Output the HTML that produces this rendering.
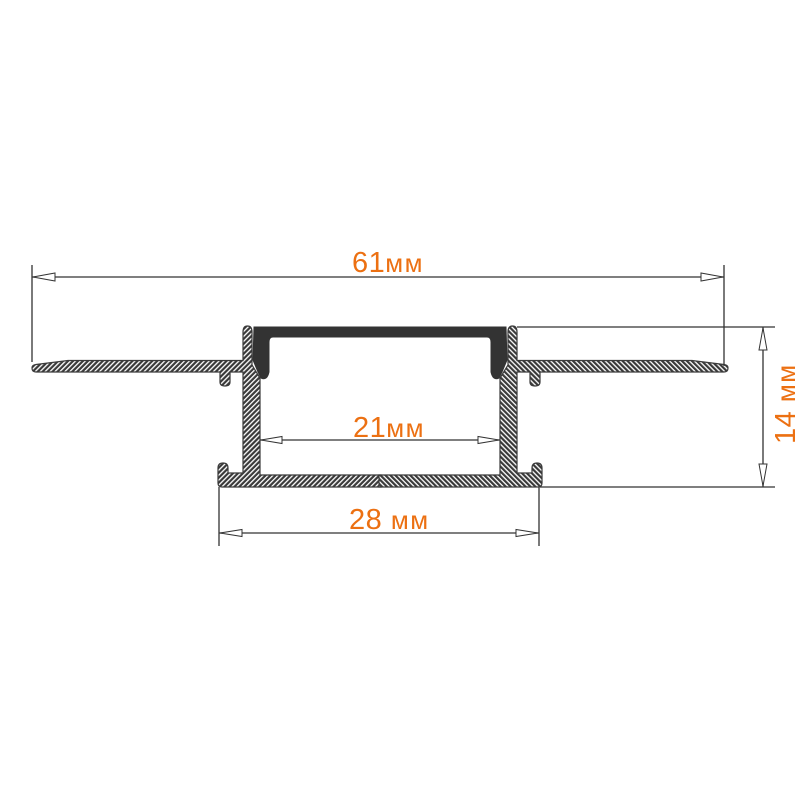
<!DOCTYPE html>
<html><head><meta charset="utf-8"><style>
html,body{margin:0;padding:0;background:#fff;}
svg{display:block;}
.t{font-family:"Liberation Sans",sans-serif;fill:#ec7012;}
</style></head><body>
<svg width="810" height="810" viewBox="0 0 810 810" xmlns="http://www.w3.org/2000/svg">
<defs>
<pattern id="h" width="3.5" height="3.5" patternUnits="userSpaceOnUse" patternTransform="rotate(45)">
<rect width="3.5" height="3.5" fill="#3a3a3a"/>
<rect width="1.3" height="3.5" fill="#fff"/>
</pattern>
<g id="half">
<path d="M381,487 L222,487 Q218,487 218,483 L218,468 Q218,463 223,463 Q228,463 228,468 L228,473 L243,473 L243,372 L230,372 L230,382 Q230,386 225,386 Q220,386 220,382 L220,372 L36,372 Q32,372 32,368 Q32,365 36,364.5 L68,360.5 L243,360.5 L243,332 Q243,326 247.5,326 Q252,326 252,332 L252,365 L260,378 L260,475 L381,475 Z" fill="url(#h)" stroke="#3a3a3a" stroke-width="1.2"/>
<path d="M254,327 L381,327 L381,337 L273,337 Q269,337 269,342 L269,372 Q267,381 261,378 L258,372 L253,360 Z" fill="#333" stroke="#333" stroke-width="1"/>
</g>
</defs>
<use href="#half"/>
<use href="#half" transform="translate(760,0) scale(-1,1)"/>

<g stroke="#333" stroke-width="1.3" fill="none">
<line x1="32" y1="265" x2="32" y2="362"/>
<line x1="724" y1="265" x2="724" y2="366"/>
<line x1="32" y1="277" x2="724" y2="277"/>
<line x1="517" y1="327" x2="775" y2="327"/>
<line x1="540" y1="487" x2="775" y2="487"/>
<line x1="763" y1="327" x2="763" y2="487"/>
<line x1="260" y1="440" x2="500" y2="440"/>
<line x1="219" y1="487" x2="219" y2="546"/>
<line x1="539" y1="487" x2="539" y2="546"/>
<line x1="219" y1="533" x2="539" y2="533"/>
</g>
<g stroke="#333" stroke-width="1" fill="#fff">
<polygon points="33,277 55,273 55,281"/>
<polygon points="723,277 701,273 701,281"/>
<polygon points="763,328 759,350 767,350"/>
<polygon points="763,486 759,464 767,464"/>
<polygon points="261,440 282,436.5 282,443.5"/>
<polygon points="499,440 478,436.5 478,443.5"/>
<polygon points="220,533 242,529.5 242,536.5"/>
<polygon points="538,533 516,529.5 516,536.5"/>
</g>

<text class="t" x="352" y="272" font-size="29" letter-spacing="0.5">61<tspan font-size="26" letter-spacing="1.5">мм</tspan></text>
<text class="t" x="353" y="437" font-size="29" letter-spacing="0.5">21<tspan font-size="26" letter-spacing="1.5">мм</tspan></text>
<text class="t" x="349" y="529" font-size="29" letter-spacing="0.5">28 <tspan font-size="26" letter-spacing="1.5">мм</tspan></text>
<text class="t" font-size="29" letter-spacing="0.5" transform="translate(795,444) rotate(-90)">14 <tspan font-size="26" letter-spacing="1.5">мм</tspan></text>
</svg>
</body></html>
